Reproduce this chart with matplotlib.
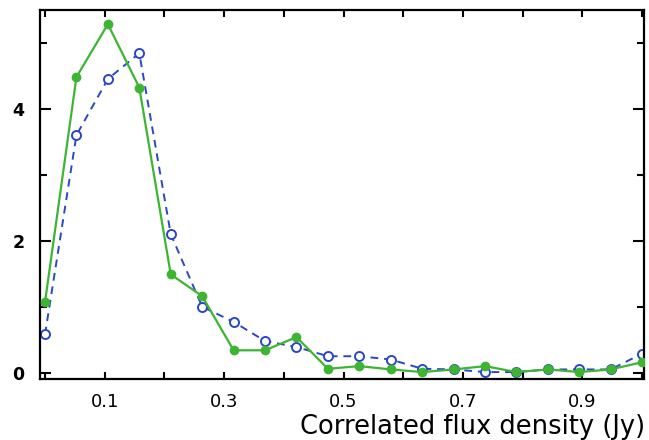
import matplotlib
matplotlib.use('Agg')
import matplotlib.pyplot as plt
import numpy as np

# bin centres (20 bins between 0 and 1 Jy)
flux = np.linspace(0, 1, 20)

green_vals = [1.07, 4.48, 5.28, 4.32, 1.49, 1.16, 0.34, 0.34, 0.54, 0.06,
              0.10, 0.05, 0.01, 0.05, 0.10, 0.01, 0.05, 0.01, 0.05, 0.16]
blue_vals = [0.58, 3.60, 4.45, 4.84, 2.10, 1.00, 0.77, 0.48, 0.39, 0.25,
             0.25, 0.20, 0.06, 0.05, 0.01, 0.01, 0.05, 0.05, 0.05, 0.29]

x_ticks = [0.0, 0.1, 0.2, 0.3, 0.4, 0.5, 0.6, 0.7, 0.8, 0.9, 1.0]
x_labels = ['', '0.1', '', '0.3', '', '0.5', '', '0.7', '', '0.9', '']
y_ticks = [0, 2, 4]
y_minor = [1, 3, 5]

W, H = 649, 440
fig = plt.figure(figsize=(W / 100, H / 100), dpi=100)
ax = fig.add_axes([40 / W, 61 / H, 604 / W, 369 / H])

green = '#3db532'
blue = '#2a48c4'

ax.plot(flux, blue_vals, linestyle=(0, (4, 3)), color=blue, lw=1.4,
        marker='o', ms=6.5, mfc='white', mec=blue, mew=1.4, zorder=2)
ax.plot(flux, green_vals, linestyle='-', color=green, lw=1.6,
        marker='o', ms=6, mfc=green, mec=green, zorder=3)

ax.set_xlim(-0.0084, 1.003)
ax.set_ylim(-0.095, 5.495)

ax.set_xticks(x_ticks)
ax.set_xticklabels(x_labels, fontsize=13)
ax.set_yticks(y_ticks)
ax.set_yticks(y_minor, minor=True)
ax.set_yticklabels([str(v) for v in y_ticks], fontsize=12.5, fontweight='bold')

ax.tick_params(axis='x', which='major', direction='in', length=5, width=1.5,
               top=True, bottom=True, pad=10)
ax.tick_params(axis='y', which='major', direction='in', length=8, width=1.5,
               left=True, right=True, pad=11)
ax.tick_params(axis='y', which='minor', direction='in', length=5, width=1.5,
               left=True, right=True)

for s in ax.spines.values():
    s.set_linewidth(1.6)

fig.text(645 / W, 6 / H, 'Correlated flux density (Jy)', ha='right',
         va='baseline', fontsize=18.5)

fig.savefig('out.png', dpi=100)
